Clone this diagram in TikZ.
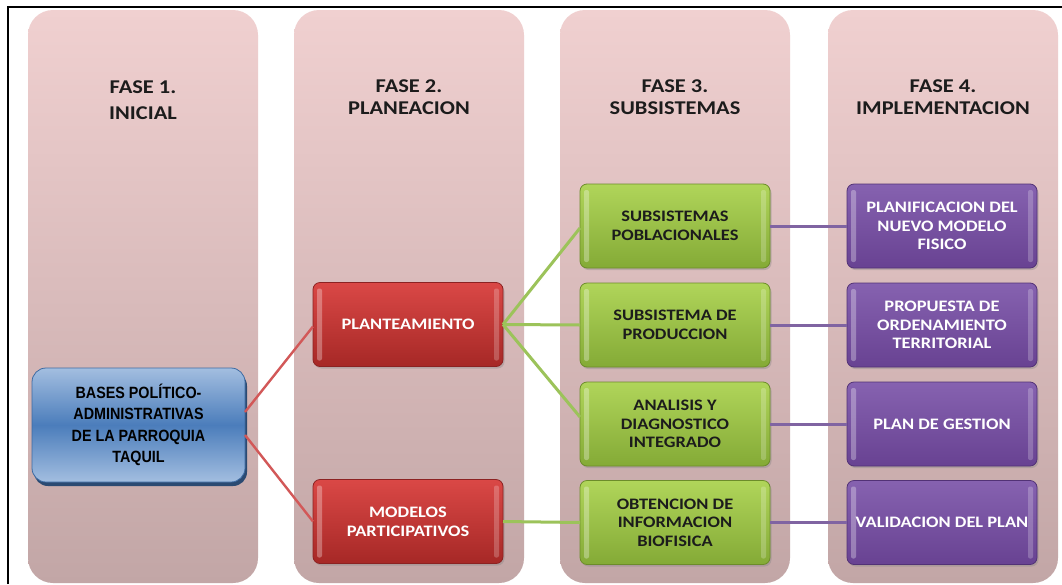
\documentclass[tikz,border=0pt]{standalone}
\usepackage{fontspec}
\usetikzlibrary{shadows,calc}
\newfontfamily\calf{Carlito}[FakeStretch=1.15]
\newfontfamily\arf{Liberation Sans}[FakeStretch=0.88]
\definecolor{coltop}{HTML}{F0D0D0}
\definecolor{colbot}{HTML}{C2A6A6}
\definecolor{redtop}{HTML}{DA4846}
\definecolor{redbot}{HTML}{A62826}
\definecolor{redline}{HTML}{8C2222}
\definecolor{grntop}{HTML}{B0D55A}
\definecolor{grnbot}{HTML}{84AA36}
\definecolor{grnline}{HTML}{6C8C2A}
\definecolor{purtop}{HTML}{8662B0}
\definecolor{purbot}{HTML}{684292}
\definecolor{purline}{HTML}{523276}
\definecolor{blutop}{HTML}{A3BEE0}
\definecolor{blumid}{HTML}{4B7DBB}
\definecolor{bluline}{HTML}{3D6AA2}
\definecolor{blushad}{HTML}{2B4A72}
\definecolor{conred}{HTML}{D25858}
\definecolor{congrn}{HTML}{9CC35A}
\definecolor{conpur}{HTML}{8064A2}
\definecolor{txtdark}{HTML}{1C1C1C}
\begin{document}
\begin{tikzpicture}[x=1pt,y=-1pt,
  colbox/.style={rounded corners=25pt, top color=coltop, bottom color=colbot,
    minimum width=230pt, minimum height=573pt, inner sep=0pt, outer sep=0pt},
  hdr/.style={align=center, text=txtdark, inner sep=0pt},
  bevel/.style={path picture={
    \fill[white,opacity=.30,rounded corners=2pt]
      ($(path picture bounding box.north west)+(4pt,-6pt)$) rectangle
      ($(path picture bounding box.south west)+(9pt,6pt)$);
    \fill[white,opacity=.22,rounded corners=2pt]
      ($(path picture bounding box.north east)+(-9pt,-6pt)$) rectangle
      ($(path picture bounding box.south east)+(-4pt,6pt)$);}},
  box/.style={rounded corners=7pt, minimum width=190pt, minimum height=84pt,
    inner sep=0pt, outer sep=0pt, align=center, line width=.8pt, bevel,
    drop shadow={shadow xshift=1.5pt, shadow yshift=-2pt, opacity=.35},
    font=\calf\bfseries\fontsize{16}{18.7}\selectfont},
  redbox/.style={box, draw=redline, top color=redtop, bottom color=redbot, text=white},
  grnbox/.style={box, draw=grnline, top color=grntop, bottom color=grnbot, text=txtdark},
  purbox/.style={box, draw=purline, top color=purtop, bottom color=purbot, text=white},
  blubox/.style={rounded corners=14pt, minimum width=213pt, minimum height=114pt,
    inner sep=0pt, outer sep=0pt, align=center, line width=.8pt, draw=bluline,
    top color=blutop, bottom color=blutop, middle color=blumid, text=black,
    drop shadow={shadow xshift=2pt, shadow yshift=-4pt, opacity=1, fill=blushad},
    font=\arf\bfseries\fontsize{16.3}{21.5}\selectfont},
  redcon/.style={draw=conred, line width=2.4pt},
  grncon/.style={draw=congrn, line width=3pt},
  purcon/.style={draw=conpur, line width=3pt}
]
\useasboundingbox (0,0) rectangle (1062,584);
\fill[white] (0,0) rectangle (1062,584);
\draw[line width=2pt] (8,584) -- (8,6.5) -- (1062,6.5);

% columns
\node[colbox] (col1) at (143,296.5) {};
\node[colbox] (col2) at (409,296.5) {};
\node[colbox] (col3) at (675,296.5) {};
\node[colbox] (col4) at (943,296.5) {};

% headers
\node[hdr, font=\calf\bfseries\fontsize{19.5}{26}\selectfont] (h1) at (143,100) {FASE 1.\\INICIAL};
\node[hdr, font=\calf\bfseries\fontsize{19.5}{22}\selectfont] (h2) at (409,97) {FASE 2.\\PLANEACION};
\node[hdr, font=\calf\bfseries\fontsize{19.5}{22}\selectfont] (h3) at (675,97) {FASE 3.\\SUBSISTEMAS};
\node[hdr, font=\calf\bfseries\fontsize{19.5}{22}\selectfont] (h4) at (943,97) {FASE 4.\\IMPLEMENTACION};

% boxes
\node[blubox] (bases) at (138.5,425) {BASES POLÍTICO-\\ADMINISTRATIVAS\\DE LA PARROQUIA\\TAQUIL};
\node[redbox] (plan) at (408,324.5) {PLANTEAMIENTO};
\node[redbox] (mod) at (408,521.5) {MODELOS\\PARTICIPATIVOS};
\node[grnbox] (g1) at (675,226) {SUBSISTEMAS\\POBLACIONALES};
\node[grnbox] (g2) at (675,325) {SUBSISTEMA DE\\PRODUCCION};
\node[grnbox] (g3) at (675,424) {ANALISIS Y\\DIAGNOSTICO\\INTEGRADO};
\node[grnbox] (g4) at (675,522.5) {OBTENCION DE\\INFORMACION\\BIOFISICA};
\node[purbox] (p1) at (942,226) {PLANIFICACION DEL\\NUEVO MODELO\\FISICO};
\node[purbox] (p2) at (942,325) {PROPUESTA DE\\ORDENAMIENTO\\TERRITORIAL};
\node[purbox] (p3) at (942,424) {PLAN DE GESTION};
\node[purbox] (p4) at (942,522.5) {VALIDACION DEL PLAN};

% connectors
\draw[redcon] ([yshift=13pt]bases.east) -- ([yshift=-2pt]plan.west);
\draw[redcon] ([yshift=-10pt]bases.east) -- (mod.west);
\draw[grncon] (plan.east) -- ([yshift=-2pt]g1.west);
\draw[grncon] (plan.east) -- (g2.west);
\draw[grncon] (plan.east) -- ([yshift=7pt]g3.west);
\draw[grncon] (mod.east) -- (g4.west);
\draw[purcon] (g1.east) -- (p1.west);
\draw[purcon] (g2.east) -- (p2.west);
\draw[purcon] (g3.east) -- (p3.west);
\draw[purcon] (g4.east) -- (p4.west);
\end{tikzpicture}
\end{document}
